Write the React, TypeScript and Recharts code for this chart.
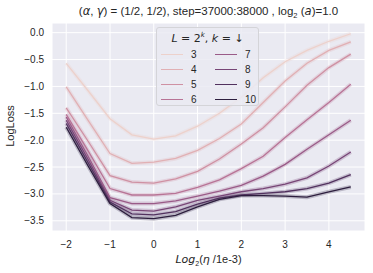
import React from 'react';
import { LineChart, Line, XAxis, YAxis, CartesianGrid } from 'recharts';

const X = [-2, -1.5, -1, -0.5, 0, 0.5, 1, 1.5, 2, 2.5, 3, 3.5, 4, 4.5];

const LOSS_L3 = [-0.57, -1.08, -1.6, -1.9, -1.98, -1.92, -1.74, -1.5, -1.2, -0.84, -0.54, -0.33, -0.16, -0.02];
const LOSS_L4 = [-1.01, -1.63, -2.25, -2.43, -2.41, -2.34, -2.19, -1.97, -1.7, -1.3, -0.9, -0.57, -0.33, -0.17];
const LOSS_L5 = [-1.4, -2.02, -2.66, -2.78, -2.8, -2.72, -2.58, -2.35, -2.07, -1.77, -1.38, -0.98, -0.65, -0.4];
const LOSS_L6 = [-1.52, -2.2, -2.9, -3.02, -3.02, -2.99, -2.88, -2.74, -2.53, -2.3, -1.95, -1.62, -1.3, -0.96];
const LOSS_L7 = [-1.57, -2.3, -3.07, -3.18, -3.18, -3.13, -3.04, -2.95, -2.84, -2.67, -2.45, -2.17, -1.9, -1.63];
const LOSS_L8 = [-1.63, -2.36, -3.12, -3.3, -3.32, -3.24, -3.12, -3.04, -2.96, -2.9, -2.82, -2.7, -2.48, -2.22];
const LOSS_L9 = [-1.69, -2.42, -3.15, -3.37, -3.39, -3.33, -3.19, -3.08, -3.02, -2.99, -2.96, -2.9, -2.8, -2.64];
const LOSS_L10 = [-1.76, -2.48, -3.18, -3.44, -3.46, -3.4, -3.24, -3.1, -3.03, -3.03, -3.04, -3.06, -2.96, -2.87];

const LEVELS = [3, 4, 5, 6, 7, 8, 9, 10];
const SERIES = [LOSS_L3, LOSS_L4, LOSS_L5, LOSS_L6, LOSS_L7, LOSS_L8, LOSS_L9, LOSS_L10];
// seaborn default cubehelix for numeric hue
const COLORS = ['#edd1cb', '#e1b0b4', '#cf91a3', '#b87496', '#9a5b88', '#774576', '#51315e', '#2d1e3e'];

const X_TICKS = [-2, -1, 0, 1, 2, 3, 4];
const Y_TICKS = [0, -0.5, -1, -1.5, -2, -2.5, -3, -3.5];

const data = X.map((x, i) => {
  const row: any = { x };
  LEVELS.forEach((L, j) => {
    row['L' + L] = SERIES[j][i];
  });
  return row;
});

const minus = (s: string) => s.replace('-', '\u2212');
const fmtX = (v: number) => minus(String(v));
const fmtY = (v: number) => minus(v.toFixed(1));

const mathFont = '"DejaVu Sans", sans-serif';

const LegendBox = () => {
  const cols = [LEVELS.slice(0, 4), LEVELS.slice(4)];
  return (
    <div
      style={{
        position: 'absolute',
        left: 156,
        top: 27,
        width: 103,
        height: 79,
        background: 'rgba(234,234,242,0.85)',
        border: '1px solid #d4d4d8',
        borderRadius: 3,
        boxSizing: 'border-box',
        fontSize: 10,
        color: '#262626',
      }}
    >
      <div style={{ textAlign: 'center', marginTop: 3, fontSize: 11, fontFamily: mathFont, whiteSpace: 'nowrap' }}>
        <i>L</i> = 2<sup style={{ fontSize: 7 }}><i>k</i></sup>, <i>k</i> = ↓
      </div>
      {cols.map((col, ci) => (
        <div key={ci} style={{ position: 'absolute', left: ci === 0 ? 4 : 58, top: 19 }}>
          {col.map((L) => {
            const idx = LEVELS.indexOf(L);
            return (
              <div key={L} style={{ height: 15, display: 'flex', alignItems: 'center' }}>
                <div style={{ width: 22, height: 1.5, background: COLORS[idx] }} />
                <span style={{ marginLeft: 8 }}>{L}</span>
              </div>
            );
          })}
        </div>
      ))}
    </div>
  );
};

export default function App() {
  return (
    <div
      style={{
        position: 'absolute',
        left: 0,
        top: 0,
        width: 373,
        height: 273,
        background: '#fff',
        fontFamily: '"Liberation Sans", Arial, sans-serif',
      }}
    >
      <LineChart width={373} height={273} data={data} margin={{ top: 23, right: 8, bottom: 0, left: 0 }}>
        <CartesianGrid fill="#eaeaf2" fillOpacity={1} stroke="#ffffff" strokeWidth={1} />
        <XAxis
          type="number"
          dataKey="x"
          domain={[-2.325, 4.825]}
          ticks={X_TICKS}
          tickFormatter={fmtX}
          tickLine={false}
          axisLine={false}
          height={42}
          tickMargin={4}
          tick={{ fontSize: 10, fill: '#262626' }}
          allowDataOverflow
        />
        <YAxis
          type="number"
          domain={[-3.69, 0.18]}
          ticks={Y_TICKS}
          tickFormatter={fmtY}
          tickLine={false}
          axisLine={false}
          width={52}
          tick={{ fontSize: 10, fill: '#262626' }}
          allowDataOverflow
        />
        {LEVELS.map((L, j) => (
          <Line
            key={'band' + L}
            type="linear"
            dataKey={'L' + L}
            stroke={COLORS[j]}
            strokeOpacity={0.25}
            strokeWidth={4}
            dot={false}
            activeDot={false}
            isAnimationActive={false}
          />
        ))}
        {LEVELS.map((L, j) => (
          <Line
            key={'line' + L}
            type="linear"
            dataKey={'L' + L}
            stroke={COLORS[j]}
            strokeWidth={1.3}
            dot={false}
            activeDot={false}
            isAnimationActive={false}
          />
        ))}
      </LineChart>

      <div
        style={{
          position: 'absolute',
          left: 52,
          width: 313,
          top: 4,
          textAlign: 'center',
          fontSize: 11.5,
          color: '#262626',
          whiteSpace: 'nowrap',
        }}
      >
        (<i style={{ fontFamily: mathFont }}>α</i>, <i style={{ fontFamily: mathFont }}>γ</i>) = (1/2, 1/2), step=37000:38000 , log
        <sub style={{ fontSize: 7.5 }}>2</sub> (<i style={{ fontFamily: mathFont }}>a</i>)=1.0
      </div>

      <div
        style={{
          position: 'absolute',
          left: 52,
          width: 313,
          top: 253,
          textAlign: 'center',
          fontSize: 11,
          color: '#262626',
          whiteSpace: 'nowrap',
        }}
      >
        <i style={{ fontFamily: mathFont }}>Log</i>
        <sub style={{ fontSize: 7 }}>2</sub>(<i style={{ fontFamily: mathFont }}>η</i> /1e-3)
      </div>

      <div
        style={{
          position: 'absolute',
          left: 10,
          top: 126,
          transform: 'translate(-50%, -50%) rotate(-90deg)',
          fontSize: 11,
          color: '#262626',
          whiteSpace: 'nowrap',
        }}
      >
        LogLoss
      </div>

      <LegendBox />
    </div>
  );
}
